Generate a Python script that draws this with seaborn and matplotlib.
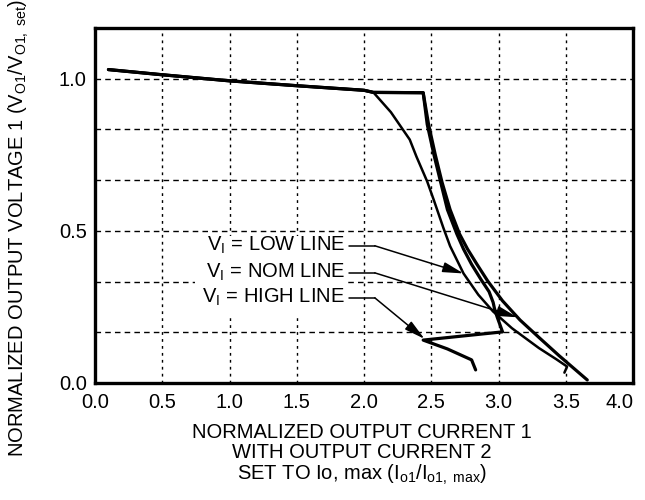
import matplotlib
matplotlib.use("Agg")
import matplotlib.pyplot as plt
import seaborn as sns
from matplotlib.patches import Rectangle

# Normalized output current 1 (x) vs normalized output voltage 1 (y), one curve per input line
low_x = [0.10, 0.50, 1.00, 1.50, 2.00, 2.07, 2.20, 2.34, 2.39, 2.47, 2.52, 2.59, 2.64,
         2.74, 2.85, 2.96, 3.10, 3.30, 3.43, 3.51, 3.49]
low_y = [1.030, 1.013, 0.993, 0.977, 0.962, 0.955, 0.890, 0.800, 0.744, 0.662, 0.600, 0.510, 0.450,
         0.360, 0.290, 0.235, 0.180, 0.115, 0.078, 0.054, 0.034]

nom_x = [0.10, 0.50, 1.00, 1.50, 2.00, 2.07, 2.44, 2.48, 2.53, 2.58, 2.64, 2.71, 2.77,
         2.84, 2.92, 3.03, 3.16, 3.30, 3.45, 3.66]
nom_y = [1.030, 1.013, 0.993, 0.977, 0.962, 0.955, 0.954, 0.850, 0.750, 0.660, 0.570, 0.490, 0.440,
         0.390, 0.335, 0.270, 0.207, 0.150, 0.090, 0.010]

high_x = [0.10, 0.50, 1.00, 1.50, 2.00, 2.07, 2.44, 2.47, 2.52, 2.57, 2.62, 2.69, 2.74,
          2.80, 2.87, 2.93, 2.96, 2.97, 2.99, 3.03, 2.44, 2.62, 2.80, 2.83]
high_y = [1.030, 1.013, 0.993, 0.977, 0.962, 0.955, 0.954, 0.850, 0.750, 0.660, 0.570, 0.490, 0.440,
          0.390, 0.340, 0.300, 0.265, 0.245, 0.217, 0.168, 0.141, 0.112, 0.076, 0.043]

# Axis ticks
x_ticks = [0.0, 0.5, 1.0, 1.5, 2.0, 2.5, 3.0, 3.5, 4.0]
y_ticks = [0.0, 0.5, 1.0]
y_grid = [1/6, 2/6, 3/6, 4/6, 5/6, 6/6]

# Curve labels: text, label anchor y, arrow tip (x, y)
label_texts = [r"V$_\mathrm{I}$ = LOW LINE", r"V$_\mathrm{I}$ = NOM LINE", r"V$_\mathrm{I}$ = HIGH LINE"]
label_y = [0.451, 0.362, 0.280]
tip_x = [2.74, 3.14, 2.45]
tip_y = [0.360, 0.216, 0.145]

sns.set_theme(style="white")
plt.rcParams["font.family"] = ["Liberation Sans", "DejaVu Sans"]
plt.rcParams["mathtext.fontset"] = "custom"
plt.rcParams["mathtext.rm"] = "Liberation Sans"
plt.rcParams["mathtext.it"] = "Liberation Sans:italic"
plt.rcParams["mathtext.bf"] = "Liberation Sans:bold"

fig = plt.figure(figsize=(6.45, 5.0), dpi=100)
ax = fig.add_axes([95/645, 1 - 383/500, 538/645, 355/500])
ax.set_axisbelow(True)

sns.lineplot(x=low_x, y=low_y, sort=False, estimator=None, color="black", lw=1.8, ax=ax, zorder=3)
sns.lineplot(x=nom_x, y=nom_y, sort=False, estimator=None, color="black", lw=2.3, ax=ax, zorder=3)
sns.lineplot(x=high_x, y=high_y, sort=False, estimator=None, color="black", lw=2.3, ax=ax, zorder=3)

ax.set_xlim(0, 4.0)
ax.set_ylim(0, 7/6)
ax.set_xticks(x_ticks)
ax.set_xticklabels([f"{v:.1f}" for v in x_ticks])
ax.set_yticks(y_ticks)
ax.set_yticklabels([f"{v:.1f}" for v in y_ticks])
ax.set_yticks(y_grid, minor=True)

ax.grid(True, axis="x", which="major", color="black", lw=1.0, linestyle=(0, (2, 3)))
ax.grid(True, axis="y", which="both", color="black", lw=1.0, linestyle=(0, (4, 3)))
ax.tick_params(axis="both", which="major", direction="in", length=8, width=1.4,
               color="black", labelsize=14.5, labelcolor="black")
ax.tick_params(axis="x", which="major", pad=7)
ax.tick_params(axis="y", which="major", pad=6)
ax.tick_params(axis="both", which="minor", length=0)
ax.get_xticklabels()[-1].set_horizontalalignment("right")
for s in ax.spines.values():
    s.set_visible(True)
    s.set_color("black")
    s.set_linewidth(2.4)

# White panel behind the curve labels
ax.add_patch(Rectangle((0.743, 0.220), 1.138, 0.264, facecolor="white",
                       edgecolor="none", zorder=1))

for txt, ly, tx, ty in zip(label_texts, label_y, tip_x, tip_y):
    ax.text(1.86, ly, txt, ha="right", va="center", fontsize=14.5, color="black", zorder=4)
    ax.plot([1.89, 2.08], [ly, ly], color="black", lw=1.1, zorder=4)
    ax.annotate("", xy=(tx, ty), xytext=(2.08, ly),
                arrowprops=dict(arrowstyle="-|>,head_length=0.9,head_width=0.22",
                                mutation_scale=14, color="black", lw=1.1,
                                shrinkA=0, shrinkB=0), zorder=4)

ax.set_xlabel("")
ax.set_ylabel("")

fig.text(19/645, 1 - 228/500,
         r"NORMALIZED OUTPUT VOLTAGE 1 (V$_\mathrm{O1}$/V$_\mathrm{O1,\ set}$)",
         rotation=90, ha="center", va="center", fontsize=14.5, color="black")
fig.text(362/645, 1 - 455/500,
         "NORMALIZED OUTPUT CURRENT 1\nWITH OUTPUT CURRENT 2\n"
         r"SET TO Io, max (I$_\mathrm{o1}$/I$_\mathrm{o1,\ max}$)",
         ha="center", va="center", fontsize=14.5, linespacing=1.08, color="black")

fig.savefig("out.png", dpi=100)
